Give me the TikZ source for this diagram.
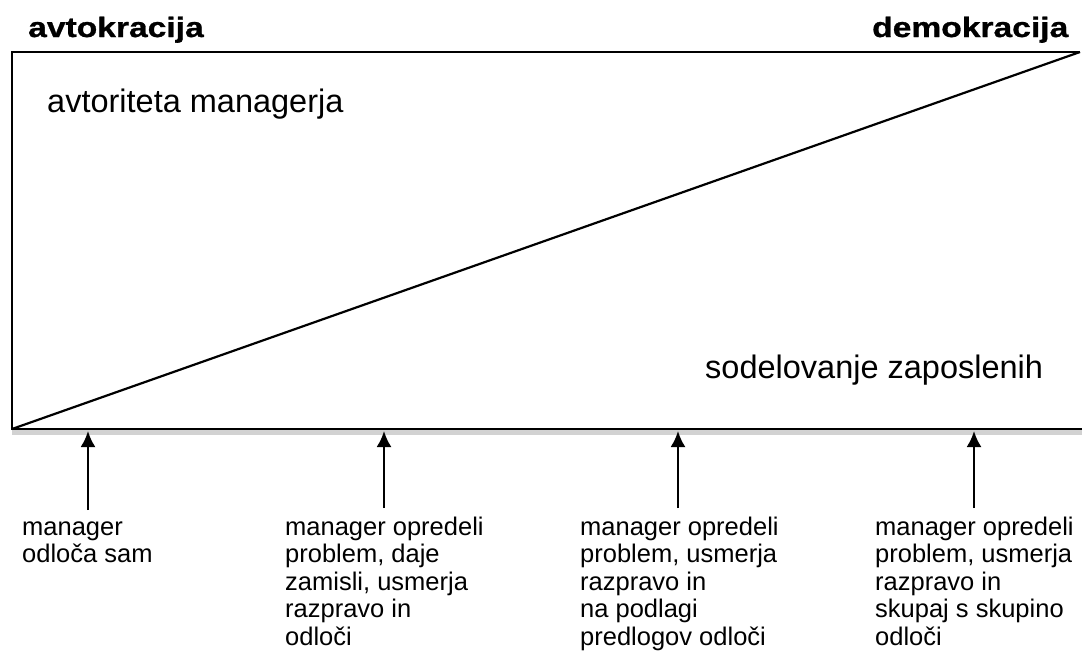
\documentclass[tikz,border=0pt]{standalone}
\usepackage{fontspec}
\setmainfont{Liberation Sans}
\newfontfamily\titlefont{Liberation Sans}[FakeStretch=1.2,FakeBold=1]
\usetikzlibrary{arrows.meta}
\begin{document}
\begin{tikzpicture}[x=1pt,y=-1pt,
  frame/.style={line width=2.2pt, black},
  shade band/.style={fill=gray!35},
  titletext/.style={anchor=base west, inner sep=0pt, font=\titlefont\bfseries\fontsize{28}{32}\selectfont},
  bigtext/.style={anchor=base west, inner sep=0pt, font=\fontsize{32.5}{38}\selectfont},
  lbl/.style={anchor=base west, inner sep=0pt, font=\fontsize{25.5}{27.5}\selectfont},
  uparrow/.style={line width=2.3pt, -{Latex[length=16pt,width=15pt]}}]
\useasboundingbox (0,0) rectangle (1082,651);
% frame corners
\coordinate (TL) at (12,52);
\coordinate (TR) at (1080,52);
\coordinate (BL) at (12,429);
\coordinate (BR) at (1082,429);
% shadow band under bottom line
\fill[shade band] (12,430) rectangle (1082,435);
\draw[frame] (TR) -- (TL) -- (BL) -- (BR);
\draw[frame] (BL) -- (TR);
% titles
\node[titletext] (avt) at (28,37) {avtokracija};
\node[titletext] (dem) at (872,37) {demokracija};
% inner texts
\node[bigtext] (aut) at (47,112) {avtoriteta managerja};
\node[bigtext] (sod) at (705,378) {sodelovanje zaposlenih};
% labels
\node[lbl] (l1) at (22,535) {\vtop{\hbox{manager}\hbox{odloča sam}}};
\node[lbl] (l2) at (285,535) {\vtop{\hbox{manager opredeli}\hbox{problem, daje}\hbox{zamisli, usmerja}\hbox{razpravo in}\hbox{odloči}}};
\node[lbl] (l3) at (580,535) {\vtop{\hbox{manager opredeli}\hbox{problem, usmerja}\hbox{razpravo in}\hbox{na podlagi}\hbox{predlogov odloči}}};
\node[lbl] (l4) at (875,535) {\vtop{\hbox{manager opredeli}\hbox{problem, usmerja}\hbox{razpravo in}\hbox{skupaj s skupino}\hbox{odloči}}};
% arrows
\coordinate (s1) at (88,510);  \coordinate (e1) at (88,431);
\coordinate (s2) at (384,508); \coordinate (e2) at (384,431);
\coordinate (s3) at (678,508); \coordinate (e3) at (678,431);
\coordinate (s4) at (974,508); \coordinate (e4) at (974,431);
\draw[uparrow] (s1) -- (e1);
\draw[uparrow] (s2) -- (e2);
\draw[uparrow] (s3) -- (e3);
\draw[uparrow] (s4) -- (e4);
\end{tikzpicture}
\end{document}
